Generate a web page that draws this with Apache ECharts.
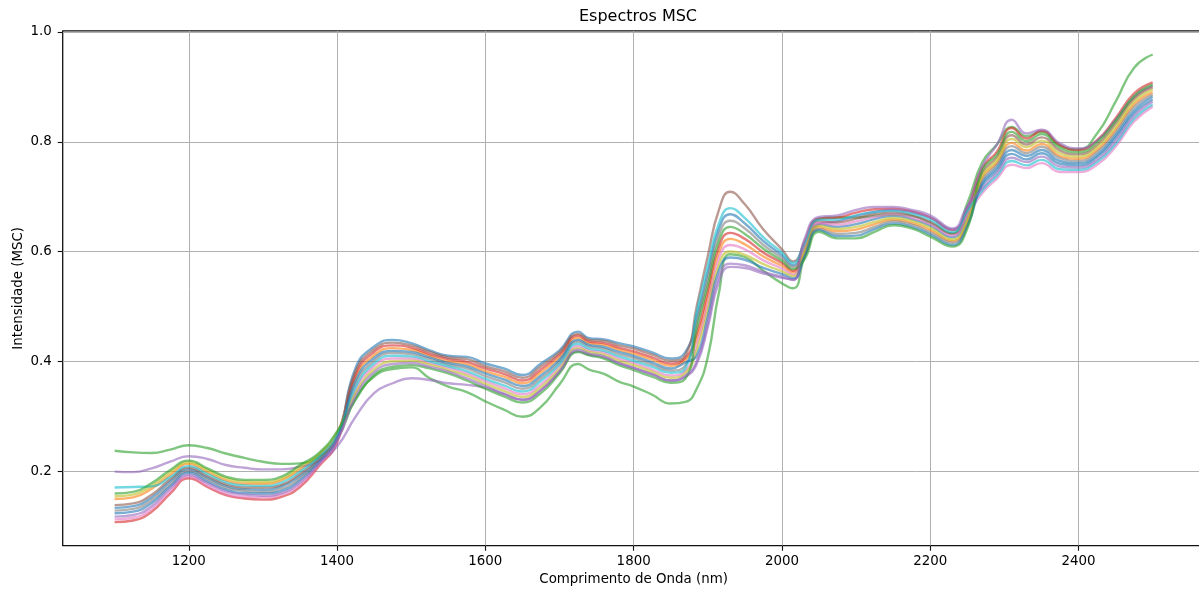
<!DOCTYPE html>
<html>
<head>
<meta charset="utf-8">
<script src="https://cdn.jsdelivr.net/npm/echarts@6/dist/echarts.min.js"></script>
<style>
html,body{margin:0;padding:0;background:#fff;}
#chart{width:1199px;height:592px;}
</style>
</head>
<body>
<div id="chart"></div>
<script>
// Wavelengths (nm)
const wavelengths = [1100,1125,1150,1175,1200,1225,1250,1275,1300,1325,1350,1375,1400,
  1425,1450,1475,1500,1525,1550,1575,1600,1625,1650,1675,1700,1725,1740,1760,1780,1800,1825,1850,1870,
  1885,1900,1915,1930,1950,1975,2000,2015,
  2030,2050,2075,2100,2125,2150,2175,2200,2230,2250,
  2270,2290,2310,2330,2350,2375,2400,2425,2450,2475,2500];

const xTicks = [1200,1400,1600,1800,2000,2200,2400];
const yTicks = [0.2,0.4,0.6,0.8,1.0];

// Spectra (MSC intensity)
const s00 = [.133,.136,.152,.181,.203,.188,.173,.167,.166,.172,.191,.220,.262,
  .388,.427,.439,.433,.420,.410,.408,.396,.387,.375,.396,.420,.454,.442,.440,.433,.427,.416,.405,.417,
  .480,.562,.641,.668,.651,.619,.593,.575,
  .603,.650,.645,.650,.659,.665,.659,.647,.626,.662,
  .720,.748,.778,.768,.779,.760,.757,.772,.807,.852,.877];
const s01 = [.149,.152,.168,.193,.213,.198,.183,.177,.177,.183,.203,.227,.268,
  .371,.411,.424,.421,.410,.400,.395,.382,.372,.360,.380,.407,.443,.433,.430,.421,.414,.403,.392,.403,
  .440,.516,.598,.623,.613,.591,.574,.562,
  .596,.644,.637,.640,.650,.658,.652,.639,.619,.654,
  .734,.762,.798,.784,.796,.774,.769,.785,.822,.868,.890];
const s02 = [.237,.234,.233,.239,.247,.242,.232,.224,.217,.213,.214,.226,.258,
  .332,.372,.386,.389,.369,.354,.344,.327,.312,.299,.317,.358,.395,.385,.377,.363,.354,.339,.323,.326,
  .350,.408,.525,.595,.590,.565,.542,.533,
  .590,.660,.662,.662,.665,.668,.665,.652,.633,.688,
  .762,.795,.827,.810,.818,.793,.786,.815,.873,.935,.959];
const s03 = [.107,.110,.126,.159,.187,.171,.156,.150,.148,.153,.171,.208,.252,
  .376,.417,.429,.425,.413,.404,.399,.387,.377,.365,.385,.412,.447,.436,.433,.425,.418,.407,.396,.407,
  .450,.528,.609,.634,.623,.598,.579,.565,
  .617,.660,.662,.671,.677,.678,.673,.662,.639,.678,
  .752,.782,.825,.806,.820,.794,.785,.803,.843,.888,.908];
const s04 = [.199,.198,.205,.217,.227,.222,.211,.206,.203,.203,.208,.218,.245,
  .299,.342,.360,.369,.366,.360,.357,.352,.340,.330,.348,.381,.418,.412,.407,.396,.388,.377,.365,.372,
  .395,.462,.545,.572,.570,.560,.552,.549,
  .592,.650,.655,.665,.672,.676,.672,.662,.640,.680,
  .755,.795,.840,.815,.822,.797,.788,.802,.840,.882,.902];
const s05 = [.138,.141,.157,.185,.206,.191,.176,.170,.170,.175,.195,.222,.264,
  .382,.422,.434,.429,.417,.407,.404,.391,.382,.370,.391,.416,.450,.439,.437,.429,.423,.412,.401,.412,
  .500,.592,.676,.709,.686,.640,.604,.582,
  .610,.655,.653,.660,.668,.671,.666,.654,.632,.670,
  .743,.772,.812,.795,.808,.784,.777,.794,.833,.878,.899];
const s06 = [.112,.115,.131,.163,.190,.174,.159,.153,.152,.157,.175,.210,.254,
  .347,.391,.405,.405,.397,.388,.378,.364,.351,.340,.358,.391,.428,.420,.416,.405,.397,.385,.374,.383,
  .430,.505,.587,.612,.604,.584,.569,.558,
  .607,.652,.649,.655,.663,.668,.662,.650,.629,.666,
  .706,.733,.758,.752,.761,.745,.745,.758,.791,.837,.864];
const s07 = [.128,.131,.147,.176,.200,.185,.170,.164,.162,.168,.187,.218,.260,
  .359,.401,.415,.413,.404,.394,.387,.373,.362,.350,.369,.399,.436,.427,.423,.413,.406,.394,.383,.393,
  .470,.551,.630,.656,.642,.612,.588,.572,
  .592,.641,.632,.634,.645,.655,.649,.635,.616,.650,
  .729,.758,.792,.779,.791,.770,.765,.781,.817,.863,.886];
const s08 = [.154,.157,.173,.198,.216,.202,.187,.181,.180,.186,.207,.230,.270,
  .342,.385,.400,.401,.394,.384,.374,.359,.346,.335,.353,.386,.424,.417,.412,.401,.393,.381,.370,.379,
  .420,.493,.576,.600,.594,.577,.564,.555,
  .599,.647,.641,.645,.654,.661,.656,.643,.622,.658,
  .738,.767,.805,.790,.802,.779,.773,.790,.827,.873,.895];
const s09 = [.170,.171,.172,.189,.209,.195,.180,.174,.173,.179,.199,.225,.266,
  .353,.396,.410,.409,.400,.391,.382,.368,.356,.345,.364,.395,.432,.423,.419,.409,.401,.390,.379,.388,
  .490,.574,.651,.679,.661,.626,.598,.579,
  .614,.658,.658,.666,.672,.674,.669,.658,.635,.674,
  .711,.738,.765,.757,.767,.750,.749,.763,.796,.842,.868];
const s10 = [.123,.126,.142,.172,.197,.181,.166,.160,.159,.164,.183,.215,.258,
  .365,.406,.419,.417,.407,.397,.391,.378,.367,.355,.374,.403,.439,.430,.426,.417,.410,.398,.387,.398,
  .410,.482,.566,.589,.585,.570,.559,.551,
  .589,.639,.628,.629,.641,.651,.645,.631,.612,.646,
  .724,.753,.785,.774,.785,.765,.761,.776,.812,.857,.882];
const s11 = [.159,.162,.178,.202,.219,.205,.190,.184,.184,.190,.211,.232,.272,
  .330,.375,.390,.393,.387,.378,.365,.350,.336,.325,.342,.378,.417,.411,.405,.393,.384,.372,.361,.369,
  .460,.539,.619,.645,.632,.605,.583,.568,
  .585,.636,.624,.624,.636,.648,.642,.627,.609,.642,
  .747,.777,.818,.801,.814,.789,.781,.799,.838,.883,.904];
const s12 = [.117,.120,.136,.168,.193,.178,.163,.157,.155,.160,.179,.213,.256,
  .336,.380,.395,.397,.390,.381,.369,.355,.341,.330,.347,.382,.421,.414,.409,.397,.388,.376,.365,.374,
  .400,.470,.555,.578,.575,.563,.554,.548,
  .621,.663,.666,.676,.681,.681,.676,.666,.642,.682,
  .715,.743,.771,.763,.773,.755,.753,.767,.801,.847,.873];

const spectra = [s00,s01,s02,s03,s04,s05,s06,s07,s08,s09,s10,s11,s12];
const colors = ['#1f77b4','#ff7f0e','#2ca02c','#d62728','#9467bd','#8c564b','#e377c2','#7f7f7f','#bcbd22','#17becf','#1f77b4','#2ca02c','#9467bd'];

const FONT = 'DejaVu Sans';
const chart = echarts.init(document.getElementById('chart'), null, {renderer:'canvas'});

const series = spectra.map((vals, k) => ({
  type: 'line',
  name: 'S' + k,
  data: wavelengths.map((w, i) => [w, vals[i]]),
  showSymbol: false,
  smooth: 0.5,
  silent: true,
  lineStyle: {color: colors[k], width: 2.4, opacity: 0.6},
  itemStyle: {color: colors[k]}
}));

chart.setOption({
  animation: false,
  backgroundColor: '#fff',
  title: {
    text: 'Espectros MSC',
    left: 633, top: 4, textAlign: 'center',
    textStyle: {fontFamily: FONT, fontSize: 16, fontWeight: 'normal', color: '#000'}
  },
  grid: {
    left: 62.7, top: 30.9, width: 1141.9, height: 514.8,
    outerBoundsMode: 'none', containLabel: false,
    show: true, borderColor: '#111', borderWidth: 1.3, backgroundColor: 'transparent'
  },
  xAxis: {
    type: 'value', min: 1030, max: 2570,
    name: 'Comprimento de Onda (nm)', nameLocation: 'middle', nameGap: 27, nameMoveOverlap: false,
    nameTextStyle: {fontFamily: FONT, fontSize: 13.4, color: '#000'},
    axisLine: {show: false},
    axisTick: {show: true, customValues: xTicks, length: 5, lineStyle: {color: '#111', width: 1.1}},
    axisLabel: {customValues: xTicks, margin: 9, fontFamily: FONT, fontSize: 13.4, color: '#000',
      formatter: v => String(Math.round(v))},
    splitLine: {show: true, lineStyle: {color: '#b0b0b0', width: 1}}
  },
  yAxis: {
    type: 'value', min: 0.064, max: 1.002,
    name: 'Intensidade (MSC)', nameLocation: 'middle', nameGap: 38, nameRotate: 90, nameMoveOverlap: false,
    nameTextStyle: {fontFamily: FONT, fontSize: 13.4, color: '#000'},
    axisLine: {show: false},
    axisTick: {show: true, customValues: yTicks, length: 5, lineStyle: {color: '#111', width: 1.1}},
    axisLabel: {customValues: yTicks, margin: 11, fontFamily: FONT, fontSize: 13.4, color: '#000',
      formatter: v => v.toFixed(1)},
    splitLine: {show: true, lineStyle: {color: '#b0b0b0', width: 1}}
  },
  series: series
});
</script>
</body>
</html>
